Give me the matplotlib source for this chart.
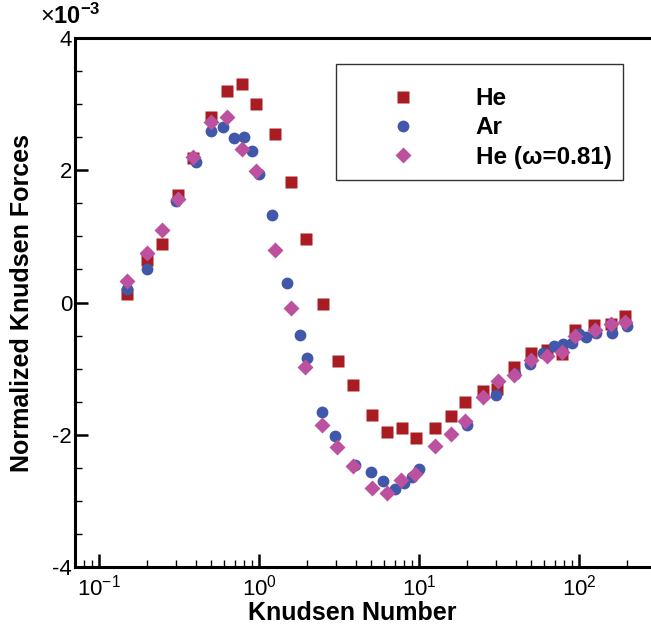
import matplotlib
matplotlib.use("Agg")
import matplotlib.pyplot as plt
import numpy as np
from matplotlib.ticker import LogLocator, MultipleLocator, NullFormatter

plt.rcParams['font.family'] = ['Liberation Sans', 'DejaVu Sans']
plt.rcParams['mathtext.fontset'] = 'custom'
plt.rcParams['mathtext.rm'] = 'Liberation Sans'
plt.rcParams['mathtext.bf'] = 'Liberation Sans:bold'
plt.rcParams['axes.unicode_minus'] = False

# Knudsen force data (values in units of 1e-3)
he_kn = [0.148, 0.198, 0.248, 0.309, 0.387, 0.50, 0.626, 0.776, 0.95, 1.25, 1.57, 1.95,
         2.49, 3.09, 3.87, 5.04, 6.25, 7.79, 9.53, 12.5, 15.7, 19.2, 24.9, 30.7, 39.1,
         50.2, 62.5, 78.3, 94, 124, 157, 193]
he_force = [0.13, 0.64, 0.88, 1.63, 2.18, 2.81, 3.19, 3.30, 3.00, 2.55, 1.82, 0.96,
            -0.02, -0.88, -1.25, -1.70, -1.95, -1.89, -2.05, -1.89, -1.72, -1.50, -1.34, -1.30, -0.97,
            -0.76, -0.72, -0.78, -0.42, -0.34, -0.33, -0.20]

ar_kn = [0.148, 0.198, 0.30, 0.40, 0.497, 0.596, 0.698, 0.80, 0.904, 1.0, 1.205, 1.48,
         1.80, 2.0, 2.48, 2.97, 3.96, 4.96, 5.96, 7.05, 8.02, 8.96, 10.0, 19.8, 30,
         39.6, 49.2, 59.1, 69.8, 79.4, 90, 100, 110, 128, 159, 200]
ar_force = [0.20, 0.51, 1.54, 2.12, 2.59, 2.65, 2.48, 2.50, 2.29, 1.94, 1.33, 0.29,
            -0.49, -0.84, -1.65, -2.02, -2.45, -2.56, -2.69, -2.82, -2.73, -2.63, -2.51, -1.85, -1.39,
            -1.08, -0.93, -0.76, -0.65, -0.63, -0.61, -0.48, -0.52, -0.455, -0.455, -0.36]

he81_kn = [0.148, 0.198, 0.248, 0.309, 0.387, 0.50, 0.626, 0.776, 0.95, 1.25, 1.57, 1.93,
           2.48, 3.07, 3.87, 5.04, 6.25, 7.69, 9.4, 12.5, 15.7, 19.4, 24.9, 30.9, 38.9,
           50.2, 62.5, 78.3, 94, 125, 157, 193]
he81_force = [0.33, 0.755, 1.09, 1.56, 2.20, 2.73, 2.81, 2.32, 1.99, 0.80, -0.085, -0.97,
              -1.845, -2.185, -2.47, -2.80, -2.87, -2.68, -2.59, -2.16, -1.98, -1.785, -1.43, -1.19, -1.10,
              -0.87, -0.81, -0.74, -0.505, -0.42, -0.33, -0.30]

fig = plt.figure(figsize=(6.51, 6.29), dpi=100)
ax = fig.add_axes([0.1152, 0.098, 0.8848, 0.842])

ax.plot(he_kn, he_force, 's', ms=8, color='#A81C22', mec='none', label='He', zorder=3)
ax.plot(ar_kn, ar_force, 'o', ms=8.5, color='#4157AA', mec='none', label='Ar', zorder=4)
ax.plot(he81_kn, he81_force, 'D', ms=8, color='#BB519F', mec='none',
        label='He (\u03c9=0.81)', zorder=5)

ax.set_xscale('log')
ax.set_xlim(10**-1.152, 10**2.448)
ax.set_ylim(-4, 4)

ax.xaxis.set_major_locator(LogLocator(base=10, numticks=10))
ax.xaxis.set_minor_locator(LogLocator(base=10, subs=np.arange(2, 10), numticks=20))
ax.xaxis.set_minor_formatter(NullFormatter())
ax.yaxis.set_major_locator(MultipleLocator(2))
ax.yaxis.set_minor_locator(MultipleLocator(0.5))

for s in ['left', 'bottom', 'top']:
    ax.spines[s].set_linewidth(2.2)
ax.spines['right'].set_visible(False)

ax.tick_params(which='both', direction='in', top=False, right=False)
ax.tick_params(which='major', length=9.5, width=1.8, labelsize=16)
ax.tick_params(which='minor', length=5, width=1.0)
ax.tick_params(axis='y', pad=2)
ax.tick_params(axis='x', pad=5)

ax.set_xlabel('Knudsen Number', fontsize=18, fontweight='bold')
ax.set_ylabel('Normalized Knudsen Forces', fontsize=18, fontweight='bold')
ax.xaxis.set_label_coords(0.481, -0.064)
ax.yaxis.set_label_coords(-0.072, 0.5)

fig.text(40 / 651, 1 - 23.5 / 629, '\u00d7$\\mathbf{10^{-3}}$', fontsize=17,
         ha='left', va='baseline')

# blank tiny title gives the extra space above the first row, as in the original box
leg = ax.legend(loc='upper left', bbox_to_anchor=(0.4526, 0.9498), borderaxespad=0,
                prop={'weight': 'bold', 'size': 17.5}, frameon=True, fancybox=False,
                borderpad=0.48, handlelength=4.55, handletextpad=0.73, labelspacing=0.255,
                numpoints=1, title=' ', title_fontsize=4)
leg.get_frame().set_edgecolor('black')
leg.get_frame().set_linewidth(1.0)

fig.savefig('out.png', dpi=100)
